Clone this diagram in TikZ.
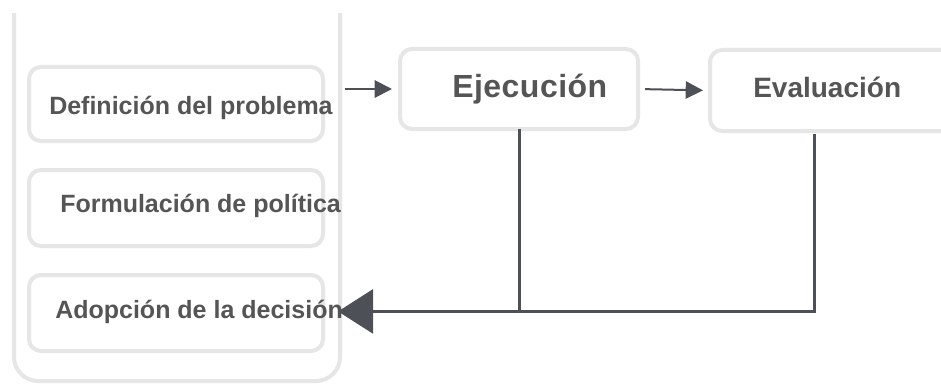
\documentclass[tikz,border=0pt]{standalone}
\usepackage{fontspec}
\setmainfont{Liberation Sans}
\usetikzlibrary{arrows.meta}
\definecolor{boxgray}{HTML}{E6E6E6}
\definecolor{txtgray}{HTML}{555555}
\definecolor{linegray}{HTML}{4D5157}
\begin{document}
\begin{tikzpicture}[x=0.75pt,y=-0.75pt,
  pbox/.style={draw=boxgray, line width=3pt, rounded corners=9pt, outer sep=0pt, inner sep=0pt},
  steptext/.style={anchor=base west, inner sep=0pt, text=txtgray, font=\bfseries\fontsize{18.75pt}{22pt}\selectfont},
  bigtext/.style={inner sep=0pt, text=txtgray, anchor=base west},
  flowarrow/.style={draw=linegray, line width=1.5pt, -{Triangle[length=13pt,width=13pt]}},
  backline/.style={draw=linegray, line width=2.25pt}
]
\useasboundingbox (0,0) rectangle (941,385);
\fill[white] (0,0) rectangle (941,385);
\begin{scope}
\clip (0,14) rectangle (941,385);
\node[pbox, rounded corners=18pt, minimum width={326*0.75pt}, minimum height={420*0.75pt}] (outer) at (177,171) {};
\end{scope}
\begin{scope}
\clip (0,0) rectangle (941,385);
\node[pbox, minimum width={294*0.75pt}, minimum height={74*0.75pt}] (b1) at (176,104) {};
\node[pbox, minimum width={294*0.75pt}, minimum height={76*0.75pt}] (b2) at (176,208) {};
\node[pbox, minimum width={294*0.75pt}, minimum height={76*0.75pt}] (b3) at (176,313) {};
\node[pbox, minimum width={238*0.75pt}, minimum height={80*0.75pt}] (ejec) at (519,89) {};
\node[pbox, minimum width={270*0.75pt}, minimum height={81*0.75pt}] (eval) at (845,90.5) {};
\end{scope}
\node[steptext] (t1) at (49,114) {Definición del problema};
\node[steptext] (t2) at (60,212) {Formulación de política};
\node[steptext] (t3) at (55,318) {Adopción de la decisión};
\node[bigtext, font=\bfseries\fontsize{24pt}{27pt}\selectfont\addfontfeature{LetterSpace=1.5}] (tejec) at (452,98) {Ejecución};
\node[bigtext, font=\bfseries\fontsize{21pt}{24pt}\selectfont] (teval) at (753,98) {Evaluación};
\coordinate (evaldrop) at (814,134);
\draw[flowarrow, shorten <=3.75pt, shorten >=6pt] (outer.east |- ejec.west) -- (ejec.west);
\draw[flowarrow, shorten <=5.25pt, shorten >=5.25pt] (ejec.east) -- (eval.west);
\draw[backline] (ejec.south) -- (ejec.south |- t3.east);
\draw[backline, -{Triangle[length=26.25pt,width=33pt]}, shorten >=-3.75pt] (evaldrop) -- (evaldrop |- t3.east) -- (t3.east);
\end{tikzpicture}
\end{document}
